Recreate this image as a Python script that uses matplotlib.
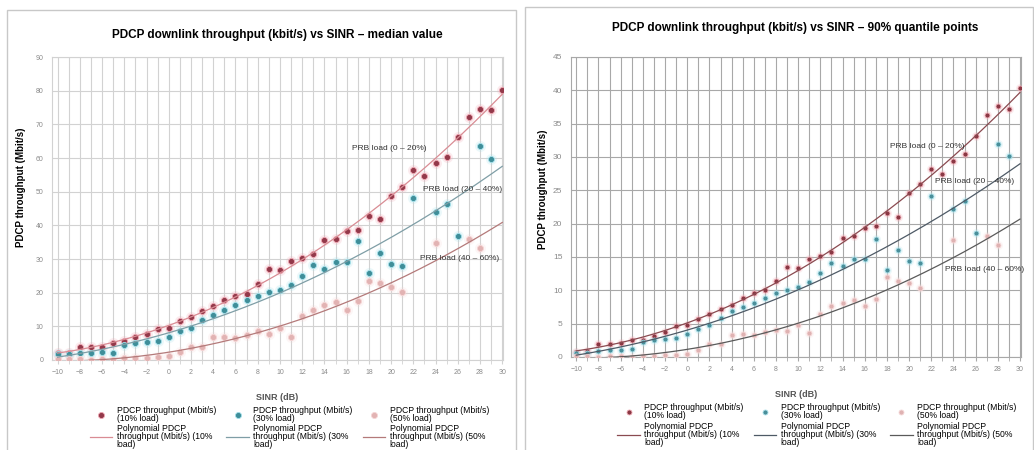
import numpy as np
import matplotlib.pyplot as plt
from matplotlib.patches import Rectangle

plt.rcParams['font.family'] = ['Liberation Sans', 'DejaVu Sans']

nan = np.nan
sinr = np.arange(-10, 31)

# median values, Mbit/s (left chart)
med_10 = [2.0, 2.0, 3.8, 3.8, 4.0, 5.2, 5.5, 6.7, 7.8, 9.2,
          9.5, 11.7, 12.9, 14.6, 16.0, 17.7, 19.0, 19.5, 22.7, 26.9,
          26.8, 29.4, 30.4, 31.4, 35.8, 36.1, 38.2, 38.7, 42.9, 42.0,
          48.8, 51.3, 56.5, 54.7, 58.4, 60.4, 66.2, 72.2, 74.7, 74.4, 80.3]
med_30 = [1.7, 1.9, 2.0, 2.0, 2.3, 2.2, 4.5, 5.0, 5.3, 5.6,
          6.9, 8.5, 9.5, 11.8, 13.5, 14.9, 16.2, 17.9, 19.0, 20.1,
          20.9, 22.3, 24.9, 28.3, 26.9, 29.0, 29.0, 35.3, 25.9, 31.8,
          28.4, 27.9, 48.2, nan, 44.0, 46.3, 36.9, nan, 63.5, 59.8, nan]
med_50 = [0.2, 0.2, 0.3, 0.0, 0.3, 0.0, 0.5, 0.5, 0.7, 0.9,
          1.1, 2.3, 4.0, 3.8, 6.7, 6.8, 6.6, 7.3, 8.5, 7.8,
          9.5, 6.9, 13.2, 15.0, 16.3, 17.1, 14.9, 17.5, 23.5, 23.0,
          21.8, 20.3, nan, nan, 34.9, nan, nan, 35.9, 33.2, nan, nan]

# 90% quantile points, Mbit/s (right chart)
q90_10 = [0.75, 0.85, 1.9, 1.9, 2.1, 2.6, 2.6, 3.2, 3.75, 4.6,
          4.8, 5.75, 6.4, 7.2, 7.85, 8.85, 9.6, 10.0, 11.4, 13.5,
          13.4, 14.75, 15.15, 15.75, 17.9, 18.15, 19.3, 19.6, 21.6, 21.0,
          24.6, 25.9, 28.2, 27.5, 29.4, 30.4, 33.2, 36.25, 37.6, 37.25, 40.4]
q90_30 = [0.6, 0.6, 0.85, 1.0, 1.0, 1.25, 2.25, 2.5, 2.7, 2.8,
          3.5, 4.25, 4.75, 5.9, 6.9, 7.5, 8.15, 8.85, 9.65, 10.1,
          10.5, 11.2, 12.65, 14.1, 13.6, 14.75, 14.75, 17.7, 13.0, 16.1,
          14.35, 14.1, 24.2, nan, 22.25, 23.35, 18.65, nan, 32.0, 30.1, nan]
q90_50 = [0.1, 0.2, 0.0, 0.1, 0.1, 0.0, 0.2, 0.2, 0.25, 0.35,
          0.5, 1.1, 2.0, 1.9, 3.35, 3.5, 3.3, 3.8, 4.0, 3.9,
          4.85, 3.65, 6.5, 7.7, 8.15, 8.5, 7.6, 8.75, 12.0, 11.4,
          11.1, 10.4, nan, nan, 17.6, nan, nan, 18.15, 16.75, nan, nan]

loads = ['10%', '30%', '50%']
prb_labels = ['PRB load (0 \u2013 20%)', 'PRB load (20 \u2013 40%)', 'PRB load (40 \u2013 60%)']

# marker face, halo, trendline colour per load
left_style = [('#93394a', '#f0a8b4', '#d98c94'),
              ('#3f8e99', '#a6e2ec', '#7f9ea6'),
              ('#e2b3b3', '#f6d6d6', '#b47a7a')]
right_style = [('#8a3844', '#eeaab4', '#8a4a50'),
               ('#4a8f9a', '#ace0ea', '#4e5a66'),
               ('#dfb2b2', '#f5d8d8', '#5a5a5a')]


def poly_trend(x, y, deg=2):
    y = np.asarray(y, dtype=float)
    ok = ~np.isnan(y)
    c = np.polyfit(x[ok], y[ok], deg)
    xs = np.linspace(-10, 30, 200)
    return xs, np.polyval(c, xs)


def draw_panel(ax, series, style, ymax, ystep, ms, grid_col, label_pos, tick_size):
    handles = []
    for i, y in enumerate(series):
        face, halo, lcol = style[i]
        ax.plot(sinr, y, 'o', ms=ms * 1.8, color=halo, alpha=0.22, mec='none', zorder=2)
        sc, = ax.plot(sinr, y, 'o', ms=ms, color=face, mec=halo, mew=0.6, zorder=3,
                      label='PDCP throughput (Mbit/s)\n(%s load)' % loads[i])
        xs, ys = poly_trend(sinr, y)
        ln, = ax.plot(xs, ys, '-', color=lcol, lw=0.9, zorder=4,
                      label='Polynomial PDCP\nthroughput (Mbit/s) (%s\nload)' % loads[i])
        handles += [sc, ln]
        tx, ty = label_pos[i]
        ax.text(tx, ty, prb_labels[i], fontsize=6, color='#333333', ha='center', va='center', zorder=5)

    ax.set_xlim(-10.5, 30.05)
    ax.set_ylim(0, ymax)
    ax.set_xticks(np.arange(-10, 31, 2))
    ax.set_xticks(np.arange(-10, 31, 1), minor=True)
    ax.set_yticks(np.arange(0, ymax + 1, ystep))
    ax.grid(True, which='both', axis='x', color=grid_col, lw=0.8)
    ax.grid(True, which='major', axis='y', color=grid_col, lw=0.8)
    ax.set_axisbelow(True)
    ax.tick_params(axis='x', which='both', length=3, color=grid_col, labelsize=tick_size, labelcolor='#8a8a8a')
    ax.tick_params(axis='y', length=0, labelsize=tick_size, labelcolor='#8a8a8a', pad=6)
    for s in ax.spines.values():
        s.set_color(grid_col)
    ax.set_xlabel('SINR (dB)', fontsize=6.5, fontweight='bold', color='#555555', labelpad=12)
    ax.set_ylabel('PDCP throughput (Mbit/s)', fontsize=7, fontweight='bold')
    return handles


def add_legend(handles, x, y):
    leg = fig.legend(handles=handles, loc='upper center', bbox_to_anchor=(x, y), ncol=3,
                     frameon=False, fontsize=6.2, handlelength=2.6, columnspacing=1.2,
                     labelspacing=0.15, borderpad=0, handletextpad=0.5)
    for t in leg.get_texts():
        t.set_linespacing(0.85)
    return leg


fig = plt.figure(figsize=(10.34, 4.5), dpi=100)

# chart panels
fig.patches.append(Rectangle((0.0068, -0.01), 0.4925, 0.988, transform=fig.transFigure,
                             fill=False, edgecolor='#c8c8c8', lw=1))
fig.patches.append(Rectangle((0.5077, -0.01), 0.491, 0.995, transform=fig.transFigure,
                             fill=False, edgecolor='#c8c8c8', lw=1))

ax1 = fig.add_axes([0.0503, 0.2, 0.436, 0.673])
h1 = draw_panel(ax1, [med_10, med_30, med_50], left_style, 90, 10, 4.4, '#d2d2d2',
                [(19.8, 63), (26.4, 50.7), (26.2, 30.3)], 5)
ax1.yaxis.set_label_coords(-0.058, 0.57)
ax1.set_title('PDCP downlink throughput (kbit/s) vs SINR \u2013 median value',
              fontsize=8.5, fontweight='bold', pad=14)
add_legend(h1, 0.28, 0.107)

ax2 = fig.add_axes([0.552, 0.2067, 0.435, 0.6667])
h2 = draw_panel(ax2, [q90_10, q90_30, q90_50], right_style, 45, 5, 3.6, '#a8a8a8',
                [(21.6, 31.6), (25.9, 26.3), (26.8, 13.1)], 6)
ax2.tick_params(axis='x', labelsize=5)
ax2.yaxis.set_label_coords(-0.05, 0.56)
ax2.set_title('PDCP downlink throughput (kbit/s) vs SINR \u2013 90% quantile points',
              fontsize=8.5, fontweight='bold', pad=19)
add_legend(h2, 0.79, 0.113)

fig.savefig('out.png', dpi=100)
